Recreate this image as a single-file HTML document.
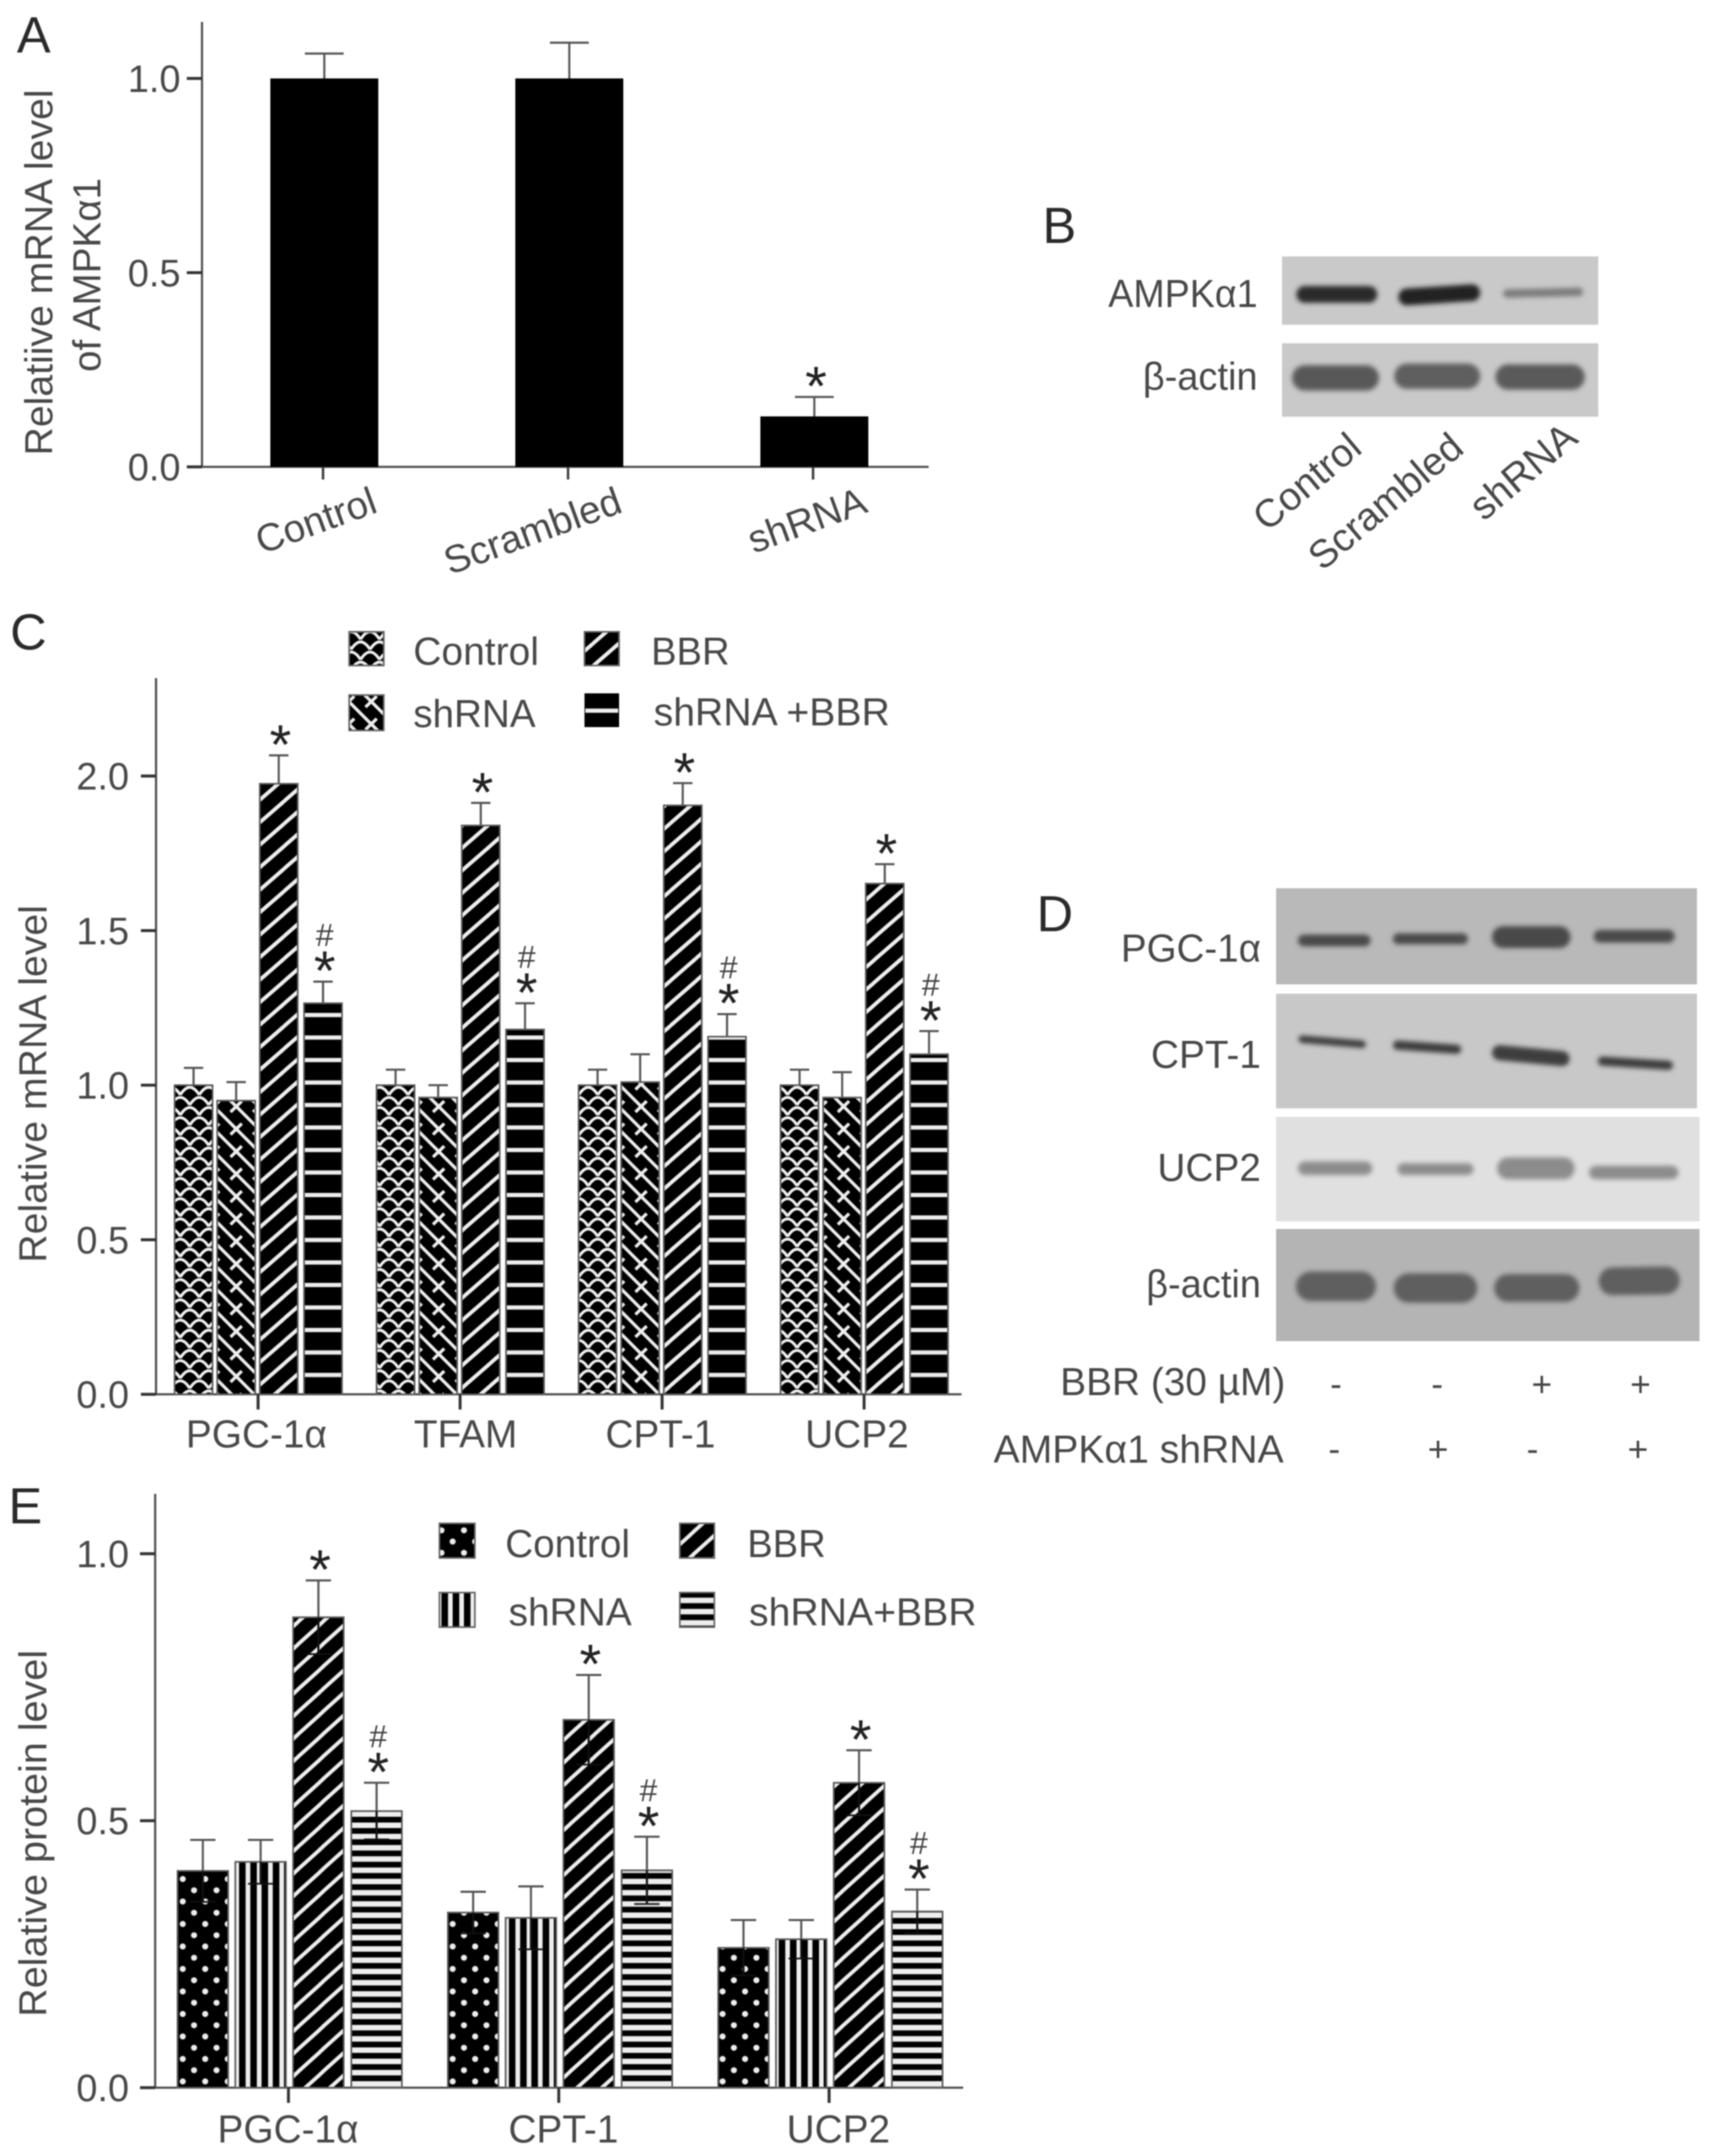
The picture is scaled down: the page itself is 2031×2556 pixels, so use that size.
<!DOCTYPE html>
<html lang="en">
<head>
<meta charset="utf-8">
<title>AMPKα1 knockdown and BBR figure</title>
<style>
html,body{margin:0;padding:0;background:#fff;}
#figure{display:block;width:2031px;height:2556px;filter:blur(0.7px);}
text{font-family:"Liberation Sans",sans-serif;fill:#484848;}
.letter{font-size:60px;fill:#2a2a2a;}
.lbl{font-size:46px;}
</style>
</head>
<body>
<svg id="figure" xmlns="http://www.w3.org/2000/svg" width="2031" height="2556" viewBox="0 0 2031 2556">
<defs>
  <filter id="blotBlur" filterUnits="userSpaceOnUse" x="0" y="0" width="2031" height="2556"><feGaussianBlur stdDeviation="3"/></filter>
  <pattern id="cControl" patternUnits="userSpaceOnUse" width="22.5" height="48">
    <rect width="22.5" height="48" fill="#000"/>
    <path d="M0,14 Q11.25,-4 22.5,14 M-11.25,26 Q0,8 11.25,26 M11.25,26 Q22.5,8 33.75,26 M0,38 Q11.25,20 22.5,38 M-11.25,50 Q0,32 11.25,50 M11.25,50 Q22.5,32 33.75,50 M-11.25,2 Q0,-16 11.25,2 M11.25,2 Q22.5,-16 33.75,2" fill="none" stroke="#eee" stroke-width="3.5"/>
  </pattern>
  <pattern id="cShrna" patternUnits="userSpaceOnUse" width="26.67" height="26.67" patternTransform="translate(0,-8.5)">
    <rect width="26.67" height="26.67" fill="#000"/>
    <path d="M-2,-2 L28.67,28.67 M-2,24.67 L2,28.67 M24.67,-2 L28.67,2 M20,7 L6.67,20" fill="none" stroke="#eee" stroke-width="3.8"/>
  </pattern>
  <pattern id="cBbr" patternUnits="userSpaceOnUse" width="30.5" height="26.67" patternTransform="translate(0,-9.1)">
    <rect width="30.5" height="26.67" fill="#000"/>
    <path d="M-3.5,29.67 L34,-3 M-3.5,3 L3.5,-3 M27,29.67 L34,23.67" fill="none" stroke="#eee" stroke-width="4.5"/>
  </pattern>
  <pattern id="cCombo" patternUnits="userSpaceOnUse" width="26.67" height="26.67">
    <rect width="26.67" height="26.67" fill="#000"/>
    <rect y="0.7" width="26.67" height="5" fill="#eee"/>
  </pattern>
  <pattern id="eControl" patternUnits="userSpaceOnUse" width="26.67" height="26.67">
    <rect width="26.67" height="26.67" fill="#000"/>
    <circle cx="3.3" cy="14" r="3.6" fill="#eee"/><circle cx="30" cy="14" r="3.6" fill="#eee"/>
    <circle cx="16.7" cy="0.7" r="3.6" fill="#eee"/><circle cx="16.7" cy="27.4" r="3.6" fill="#eee"/>
  </pattern>
  <pattern id="eShrna" patternUnits="userSpaceOnUse" width="13.33" height="20">
    <rect width="13.33" height="20" fill="#000"/>
    <rect x="0" width="3.5" height="20" fill="#eee"/>
    <rect x="11.3" width="2.03" height="20" fill="#eee"/>
  </pattern>
  <pattern id="eBbr" patternUnits="userSpaceOnUse" width="29.3" height="26.67" patternTransform="translate(0,4.2)">
    <rect width="29.3" height="26.67" fill="#000"/>
    <path d="M-3.5,29.67 L32.8,-3 M-3.5,3 L3.5,-3 M25.8,29.67 L32.8,23.67" fill="none" stroke="#eee" stroke-width="4.5"/>
  </pattern>
  <pattern id="eCombo" patternUnits="userSpaceOnUse" width="20" height="13.33">
    <rect width="20" height="13.33" fill="#000"/>
    <rect y="1.2" width="20" height="6.5" fill="#eee"/>
  </pattern>
</defs>

<text class="letter" x="20" y="62">A</text>
<text class="letter" x="1236" y="288">B</text>
<text class="letter" x="12" y="770">C</text>
<text class="letter" x="1229" y="1104">D</text>
<text class="letter" x="10" y="1806">E</text>

<text class="lbl" transform="translate(62,540) rotate(-90)" textLength="434" lengthAdjust="spacingAndGlyphs">Relatiive mRNA level</text>
<text class="lbl" transform="translate(119,441) rotate(-90)" textLength="230" lengthAdjust="spacingAndGlyphs">of AMPKα1</text>
<text class="lbl" transform="translate(55,1497) rotate(-90)" textLength="424" lengthAdjust="spacingAndGlyphs">Relative mRNA level</text>
<text class="lbl" transform="translate(55,2391) rotate(-90)" textLength="435" lengthAdjust="spacingAndGlyphs">Relative protein level</text>

<g>
  <text class="lbl" x="1491" y="364" text-anchor="end" textLength="177" lengthAdjust="spacingAndGlyphs">AMPKα1</text>
  <text class="lbl" x="1491" y="462" text-anchor="end" textLength="136" lengthAdjust="spacingAndGlyphs">β-actin</text>
  <rect x="1520" y="304" width="375" height="81" fill="#c9c9c9"/>
  <rect x="1520" y="407" width="375" height="87" fill="#c9c9c9"/>
  <g filter="url(#blotBlur)" stroke-linecap="round" fill="none">
    <line x1="1547" y1="349" x2="1623" y2="349" stroke="#2c2c2c" stroke-width="20"/>
    <line x1="1668" y1="352" x2="1745" y2="347" stroke="#242424" stroke-width="20"/>
    <line x1="1787" y1="348" x2="1872" y2="346" stroke="#7c7c7c" stroke-width="10"/>
  </g>
  <g filter="url(#blotBlur)" stroke-linecap="round" fill="none">
    <line x1="1547" y1="448" x2="1620" y2="448" stroke="#585858" stroke-width="30"/>
    <line x1="1668" y1="446" x2="1740" y2="446" stroke="#5e5e5e" stroke-width="30"/>
    <line x1="1788" y1="447" x2="1864" y2="447" stroke="#5a5a5a" stroke-width="30"/>
  </g>
  <text class="lbl" style="font-size:46.5px" transform="translate(1617,535) rotate(-40)" text-anchor="end">Control</text>
  <text class="lbl" style="font-size:46.5px" transform="translate(1738,535) rotate(-40)" text-anchor="end">Scrambled</text>
  <text class="lbl" style="font-size:47px" transform="translate(1873,523) rotate(-40)" text-anchor="end">shRNA</text>
</g>

<g>
  <rect x="1513" y="1053" width="499" height="114" fill="#b9b9b9"/>
  <rect x="1513" y="1178" width="499" height="136" fill="#c8c8c8"/>
  <rect x="1513" y="1324" width="502" height="124" fill="#e0e0e0"/>
  <rect x="1513" y="1457" width="502" height="133" fill="#b4b4b4"/>
  <g filter="url(#blotBlur)" stroke-linecap="round" fill="none" stroke="#4a4a4a">
    <line x1="1546" y1="1115" x2="1618" y2="1115" stroke-width="14"/>
    <line x1="1658" y1="1113" x2="1734" y2="1113" stroke-width="13"/>
    <line x1="1782" y1="1111" x2="1849" y2="1111" stroke-width="26"/>
    <line x1="1897" y1="1110" x2="1978" y2="1110" stroke-width="15"/>
  </g>
  <g filter="url(#blotBlur)" stroke-linecap="round" fill="none" stroke="#3e3e3e">
    <line x1="1544" y1="1232" x2="1615" y2="1238" stroke-width="9"/>
    <line x1="1657" y1="1239" x2="1727" y2="1244" stroke-width="11"/>
    <line x1="1778" y1="1248" x2="1852" y2="1255" stroke-width="18"/>
    <line x1="1900" y1="1258" x2="1978" y2="1263" stroke-width="11"/>
  </g>
  <g filter="url(#blotBlur)" stroke-linecap="round" fill="none" stroke="#8c8c8c">
    <line x1="1547" y1="1385" x2="1619" y2="1385" stroke-width="16"/>
    <line x1="1664" y1="1386" x2="1740" y2="1386" stroke-width="14"/>
    <line x1="1788" y1="1385" x2="1854" y2="1385" stroke-width="26"/>
    <line x1="1892" y1="1390" x2="1982" y2="1390" stroke-width="16"/>
  </g>
  <g filter="url(#blotBlur)" stroke-linecap="round" fill="none" stroke="#5f5f5f">
    <line x1="1554" y1="1525" x2="1614" y2="1525" stroke-width="35"/>
    <line x1="1670" y1="1527" x2="1734" y2="1527" stroke-width="35"/>
    <line x1="1788" y1="1527" x2="1856" y2="1527" stroke-width="33"/>
    <line x1="1912" y1="1519" x2="1975" y2="1518" stroke-width="33"/>
  </g>
  <text class="lbl" x="1495" y="1140" text-anchor="end" textLength="166" lengthAdjust="spacingAndGlyphs">PGC-1α</text>
  <text class="lbl" x="1495" y="1266" text-anchor="end">CPT-1</text>
  <text class="lbl" x="1495" y="1400" text-anchor="end">UCP2</text>
  <text class="lbl" x="1495" y="1538" text-anchor="end" textLength="136" lengthAdjust="spacingAndGlyphs">β-actin</text>
  <text class="lbl" x="1257" y="1654" textLength="267" lengthAdjust="spacingAndGlyphs">BBR (30 µM)</text>
  <text class="lbl" x="1178" y="1734" textLength="344" lengthAdjust="spacingAndGlyphs">AMPKα1 shRNA</text>
  <g text-anchor="middle">
    <text x="1584" y="1655" font-size="42">-</text>
    <text x="1704" y="1655" font-size="42">-</text>
    <text x="1828" y="1655" font-size="42">+</text>
    <text x="1945" y="1655" font-size="42">+</text>
    <text x="1582" y="1732" font-size="42">-</text>
    <text x="1705" y="1732" font-size="42">+</text>
    <text x="1817" y="1732" font-size="42">-</text>
    <text x="1942" y="1732" font-size="42">+</text>
  </g>
</g>

<g>
  <g>
    <rect x="414" y="749" width="41" height="40" fill="url(#cControl)" stroke="#666" stroke-width="2"/>
    <text class="lbl" x="490" y="788" textLength="149" lengthAdjust="spacingAndGlyphs">Control</text>
  </g>
  <g>
    <rect x="693" y="749" width="41" height="40" fill="url(#cBbr)" stroke="#666" stroke-width="2"/>
    <text class="lbl" x="772" y="788" textLength="93" lengthAdjust="spacingAndGlyphs">BBR</text>
  </g>
  <g>
    <rect x="414" y="824" width="41" height="42" fill="url(#cShrna)" stroke="#666" stroke-width="2"/>
    <text class="lbl" x="490" y="862" textLength="145" lengthAdjust="spacingAndGlyphs">shRNA</text>
  </g>
  <g>
    <rect x="693" y="822" width="41" height="40" fill="#000"/>
    <rect x="694" y="840" width="39" height="5" fill="#eee"/>
    <text class="lbl" x="775" y="860" textLength="280" lengthAdjust="spacingAndGlyphs">shRNA +BBR</text>
  </g>
</g>

<g>
  <g>
    <rect x="521" y="1806" width="42" height="41" fill="url(#eControl)" stroke="#666" stroke-width="2"/>
    <text class="lbl" x="599" y="1846" textLength="148" lengthAdjust="spacingAndGlyphs">Control</text>
  </g>
  <g>
    <rect x="806" y="1806" width="41" height="41" fill="url(#eBbr)" stroke="#666" stroke-width="2"/>
    <text class="lbl" x="886" y="1846" textLength="93" lengthAdjust="spacingAndGlyphs">BBR</text>
  </g>
  <g>
    <rect x="521" y="1888" width="42" height="41" fill="url(#eShrna)" stroke="#666" stroke-width="2"/>
    <text class="lbl" x="603" y="1927" textLength="146" lengthAdjust="spacingAndGlyphs">shRNA</text>
  </g>
  <g>
    <rect x="806" y="1888" width="41" height="41" fill="url(#eCombo)" stroke="#666" stroke-width="2"/>
    <text class="lbl" x="888" y="1927" textLength="270" lengthAdjust="spacingAndGlyphs">shRNA+BBR</text>
  </g>
</g>
</svg>

<script>
// Panel A data
const aCategories = ['Control', 'Scrambled', 'shRNA'];
const aMeans = [1.0, 1.0, 0.13];
const aErrorTops = [1.064, 1.092, 0.18];
const aTickValues = [0, 0.5, 1];
const aTickLabels = ['0.0', '0.5', '1.0'];
const aStars = ['', '', '*'];

// Panel C data
const cCategories = ['PGC-1α', 'TFAM', 'CPT-1', 'UCP2'];
const cSeriesNames = ['control', 'shrna', 'bbr', 'shrna-bbr'];
const cControl = [1.0, 1.0, 1.0, 1.0];
const cShrna = [0.95, 0.96, 1.01, 0.96];
const cBbr = [1.975, 1.84, 1.905, 1.652];
const cCombo = [1.265, 1.18, 1.157, 1.10];
const cControlErr = [1.056, 1.05, 1.05, 1.05];
const cShrnaErr = [1.01, 1.0, 1.10, 1.042];
const cBbrErr = [2.067, 1.913, 1.977, 1.715];
const cComboErr = [1.335, 1.265, 1.23, 1.175];
const cTickValues = [0, 0.5, 1, 1.5, 2];
const cTickLabels = ['0.0', '0.5', '1.0', '1.5', '2.0'];

// Panel E data
const eCategories = ['PGC-1α', 'CPT-1', 'UCP2'];
const eSeriesNames = ['control', 'shrna', 'bbr', 'shrna-bbr'];
const eControl = [0.406, 0.328, 0.262];
const eShrna = [0.423, 0.318, 0.278];
const eBbr = [0.881, 0.689, 0.571];
const eCombo = [0.518, 0.407, 0.33];
const eControlErr = [0.464, 0.367, 0.314];
const eShrnaErr = [0.464, 0.377, 0.314];
const eBbrErr = [0.95, 0.773, 0.632];
const eComboErr = [0.571, 0.47, 0.371];
const eTickValues = [0, 0.5, 1];
const eTickLabels = ['0.0', '0.5', '1.0'];

const SVGNS = 'http://www.w3.org/2000/svg';
const figure = document.getElementById('figure');

function make(tag, attrs, parent) {
  const node = document.createElementNS(SVGNS, tag);
  for (const k in attrs) node.setAttribute(k, attrs[k]);
  parent.appendChild(node);
  return node;
}

function drawAxes(g, prefix, geo, tickValues, tickLabels, yOf) {
  const yAxis = make('line', {x1: geo.axisX, x2: geo.axisX, y1: geo.top, y2: yOf(0) + 1, stroke: '#4a4a4a', 'stroke-width': 2.5}, g);
  
  
  const xAxis = make('line', {x1: geo.axisX, x2: geo.right, y1: yOf(0), y2: yOf(0), stroke: '#4a4a4a', 'stroke-width': 2.5}, g);
  
  
  tickValues.forEach(function (v, i) {
    const tick = make('line', {x1: geo.axisX - 18, x2: geo.axisX, y1: yOf(v), y2: yOf(v), stroke: '#333', 'stroke-width': 3.5}, g);
    
    
    const label = make('text', {x: geo.yLabelRight, y: yOf(v) + geo.yLabelDrop, 'text-anchor': 'end', 'font-size': 45}, g);
    label.textContent = tickLabels[i];
    
    
  });
}

function drawError(g, prefix, cx, yTop, yBar, capW) {
  const stem = make('line', {x1: cx, x2: cx, y1: yTop, y2: yBar, stroke: '#555', 'stroke-width': 2.5}, g);
  
  
  const cap = make('line', {x1: cx - capW / 2, x2: cx + capW / 2, y1: yTop, y2: yTop, stroke: '#555', 'stroke-width': 2.5}, g);
  
  
}

function drawLowerError(g, prefix, cx, yBar, yLow, capW) {
  const lower = make('line', {x1: cx, x2: cx, y1: yBar, y2: yLow, stroke: '#111', 'stroke-width': 2.5}, g);
  
  
  const lowerCap = make('line', {x1: cx - capW / 2, x2: cx + capW / 2, y1: yLow, y2: yLow, stroke: '#111', 'stroke-width': 2}, g);
  
  
}

function drawStar(g, prefix, cx, yTop) {
  const star = make('text', {x: cx + 2, y: yTop + 10, 'text-anchor': 'middle', 'font-size': 66, style: 'fill:#222'}, g);
  star.textContent = '*';
  
  
}

function drawHash(g, prefix, cx, yTop) {
  const hash = make('text', {x: cx + 2, y: yTop - 42, 'text-anchor': 'middle', 'font-size': 38, style: 'fill:#444'}, g);
  hash.textContent = '#';
  
  
}

// Panel A
(function () {
  const g = make('g', {}, figure);
  
  
  const zero = 553.5, unit = 460.5;
  const yOf = function (v) { return zero - v * unit; };
  const xOf = function (i) { return 384.5 + i * 290.5; };
  const barW = 128;
  drawAxes(g, 'panel-a', {axisX: 239.5, top: 26, right: 1101, yLabelRight: 214, yLabelDrop: 16}, aTickValues, aTickLabels, yOf);
  aCategories.forEach(function (name, i) {
    const cx = xOf(i);
    drawError(g, 'panel-a-' + name.toLowerCase(), cx, yOf(aErrorTops[i]), yOf(aMeans[i]), 46);
    const bar = make('rect', {x: cx - barW / 2, y: yOf(aMeans[i]), width: barW, height: zero - yOf(aMeans[i]), fill: '#000'}, g);
    
    
    const tick = make('line', {x1: cx - 1.5, x2: cx - 1.5, y1: zero, y2: zero + 15, stroke: '#444', 'stroke-width': 3}, g);
    
    
    const label = make('text', {transform: 'translate(' + (cx + 65) + ',' + (zero + 53) + ') rotate(-20)', 'text-anchor': 'end', 'font-size': 46}, g);
    label.textContent = name;
    
    
    if (aStars[i]) drawStar(g, 'panel-a-' + name.toLowerCase(), cx, yOf(aErrorTops[i]));
  });
})();

function drawGrouped(panel, geo, categories, seriesNames, seriesValues, seriesErrors, patterns, tickValues, tickLabels) {
  const g = make('g', {}, figure);
  
  
  const yOf = function (v) { return geo.zero - v * geo.unit; };
  drawAxes(g, panel, geo, tickValues, tickLabels, yOf);
  categories.forEach(function (cat, c) {
    const groupX = geo.firstX + c * geo.pitch;
    const tick = make('line', {x1: groupX + geo.tickDx, x2: groupX + geo.tickDx, y1: geo.zero, y2: geo.zero + 18, stroke: '#333', 'stroke-width': 3.5}, g);
    
    
    const label = make('text', {x: groupX + geo.labelDx[c], y: geo.labelY, 'text-anchor': 'middle', 'font-size': 46}, g);
    label.textContent = cat;
    
    
    seriesNames.forEach(function (series, s) {
      const x = groupX + geo.offsets[s];
      const cx = x + geo.barW / 2;
      const v = seriesValues[s][c];
      const top = yOf(seriesErrors[s][c]);
      const id = panel + '-' + series + '-' + c;
      drawError(g, id, cx, top, yOf(v), geo.capW);
      const bar = make('rect', {x: x, y: yOf(v), width: geo.barW, height: geo.zero - yOf(v), fill: 'url(#' + patterns[s] + ')', stroke: '#5a5a5a', 'stroke-width': 2}, g);
      
      
      if (geo.lowerErr) {
        drawLowerError(g, id, cx, yOf(v), yOf(v - (seriesErrors[s][c] - v)), geo.capW);
      }
      if (s >= 2) drawStar(g, id, cx, top);
      if (s === 3) drawHash(g, id, cx, top);
    });
  });
}

drawGrouped('panel-c',
  {axisX: 185, top: 804, right: 1140, zero: 1653, unit: 366.5, firstX: 207, pitch: 239.5, offsets: [0, 50.5, 101, 153.5], barW: 45, capW: 23, tickDx: 99, labelDx: [97, 105.5, 97, 90.5], labelY: 1716, yLabelRight: 153, yLabelDrop: 16, lowerErr: false},
  cCategories, cSeriesNames, [cControl, cShrna, cBbr, cCombo], [cControlErr, cShrnaErr, cBbrErr, cComboErr],
  ['cControl', 'cShrna', 'cBbr', 'cCombo'], cTickValues, cTickLabels);

drawGrouped('panel-e',
  {axisX: 184, top: 1771, right: 1142, zero: 2475, unit: 633, firstX: 210.5, pitch: 320.5, offsets: [0, 68.5, 137, 206], barW: 60, capW: 30, tickDx: 131.5, labelDx: [131, 137, 142.5], labelY: 2540, yLabelRight: 153, yLabelDrop: 16, lowerErr: true},
  eCategories, eSeriesNames, [eControl, eShrna, eBbr, eCombo], [eControlErr, eShrnaErr, eBbrErr, eComboErr],
  ['eControl', 'eShrna', 'eBbr', 'eCombo'], eTickValues, eTickLabels);
</script>
</body>
</html>
